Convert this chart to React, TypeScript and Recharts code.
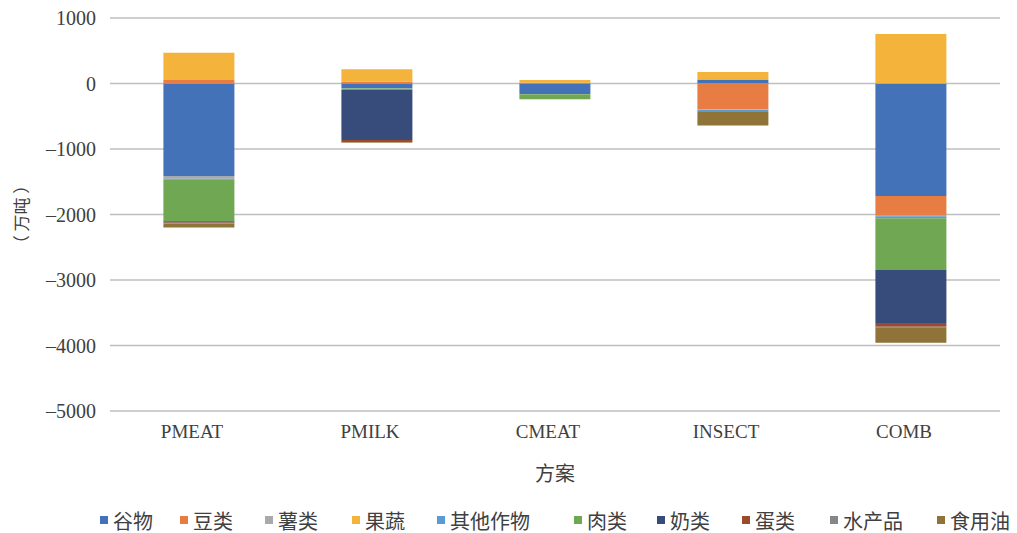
import { BarChart, Bar, XAxis, YAxis, CartesianGrid, Legend, Label } from "recharts";

// Scenarios on the x axis
const schemes = ["PMEAT", "PMILK", "CMEAT", "INSECT", "COMB"];

// Change in supply per food group (万吨), one value per scheme
const grain = [-1413, -72, -160, 60, -1718];
const beans = [55, 25, 12, -395, -290];
const tubers = [-40, 0, -3, -5, -20];
const fruitVeg = [415, 192, 40, 115, 756];
const otherCrops = [-10, -3, -2, -35, -30];
const meat = [-640, -26, -72, 0, -790];
const milk = [-20, -762, 0, 0, -810];
const eggs = [-10, -35, 0, 0, -55];
const aquatic = [-5, 0, 0, 0, -10];
const oil = [-60, -5, -3, -205, -235];

const yTicks = [1000, 0, -1000, -2000, -3000, -4000, -5000];

const series = [
  { key: "谷物", values: grain, color: "#4372B9" },
  { key: "豆类", values: beans, color: "#E87D43" },
  { key: "薯类", values: tubers, color: "#A9A9AB" },
  { key: "果蔬", values: fruitVeg, color: "#F4B33B" },
  { key: "其他作物", values: otherCrops, color: "#5B9BD5" },
  { key: "肉类", values: meat, color: "#70A752" },
  { key: "奶类", values: milk, color: "#384C7C" },
  { key: "蛋类", values: eggs, color: "#9C4A2C" },
  { key: "水产品", values: aquatic, color: "#858689" },
  { key: "食用油", values: oil, color: "#8F7338" },
];

const data = schemes.map((name, i) => {
  const row: Record<string, string | number> = { name };
  series.forEach((s) => (row[s.key] = s.values[i]));
  return row;
});

const FONT = "'Liberation Serif', 'Noto Sans CJK SC', serif";
const CJK = "'Noto Sans CJK SC', sans-serif";
const TEXT = "#404040";

// left edge of each legend entry
const legendX = [100, 180, 265, 352, 437, 574, 657, 742, 830, 937];

function FoodLegend() {
  return (
    <div style={{ position: "relative", height: 26, width: 1017, fontFamily: FONT }}>
      {series.map((s, i) => (
        <div
          key={s.key}
          style={{
            position: "absolute",
            left: legendX[i],
            top: 0,
            height: 26,
            display: "flex",
            alignItems: "center",
            gap: 5,
            fontSize: 20,
            color: TEXT,
            whiteSpace: "nowrap",
          }}
        >
          <span style={{ width: 8, height: 8, background: s.color, display: "inline-block" }} />
          {s.key}
        </div>
      ))}
    </div>
  );
}

// y tick labels drawn in serif, with an en dash for negatives
function YTick({ x, y, payload }: { x: number; y: number; payload: { value: number } }) {
  const v = payload.value;
  const label = v < 0 ? `\u2013${Math.abs(v)}` : `${v}`;
  return (
    <text x={x} y={y} dy="0.35em" textAnchor="end" fontSize={20} fill={TEXT} style={{ fontFamily: FONT }}>
      {label}
    </text>
  );
}

export default function App() {
  return (
    <div style={{ position: "absolute", left: 0, top: 0, width: 1017, height: 533, background: "#fff", fontFamily: FONT }}>
      <BarChart
        width={1017}
        height={533}
        data={data}
        stackOffset="sign"
        barCategoryGap="30%"
        margin={{ top: 18, right: 17, left: 0, bottom: 0 }}
        style={{ fontFamily: FONT }}
      >
        <CartesianGrid vertical={false} stroke="#BFBFBF" strokeWidth={1.3} />
        <XAxis
          dataKey="name"
          height={96}
          axisLine={false}
          tickLine={false}
          tickMargin={8}
          tick={{ fontSize: 19, fill: TEXT, fontFamily: FONT, dx: -7 }}
        >
          <Label value="方案" position="insideBottom" offset={26} style={{ fontSize: 20, fill: TEXT, fontFamily: CJK }} />
        </XAxis>
        <YAxis
          width={110}
          domain={[-5000, 1000]}
          ticks={yTicks}
          interval={0}
          axisLine={false}
          tickLine={false}
          tickMargin={8}
          tick={YTick}
        >
          <Label value="（ 万吨 ）" angle={-90} position="insideLeft" offset={22} style={{ fontSize: 17, fill: TEXT, fontFamily: CJK, textAnchor: "middle" }} />
        </YAxis>
        <Legend verticalAlign="bottom" wrapperStyle={{ left: 0, width: 1017 }} content={() => <FoodLegend />} />
        {series.map((s) => (
          <Bar key={s.key} dataKey={s.key} stackId="food" fill={s.color} isAnimationActive={false} />
        ))}
      </BarChart>
    </div>
  );
}
